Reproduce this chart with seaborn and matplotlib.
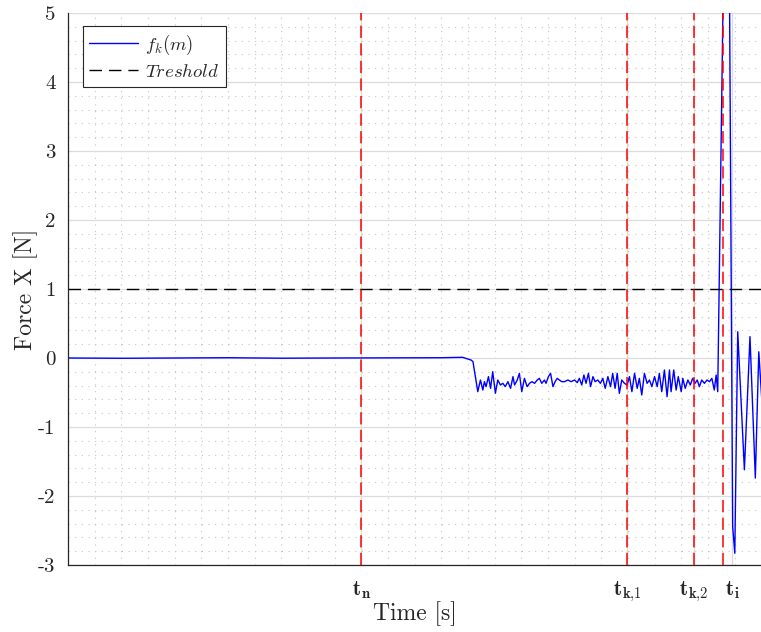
import numpy as np
import pandas as pd
import matplotlib
matplotlib.use("Agg")
import matplotlib.pyplot as plt
import seaborn as sns
from matplotlib.ticker import MultipleLocator, FixedLocator

# ---------------- data ----------------
time_flat = [0.0, 2.0, 4.0, 6.0, 8.0, 10.0, 12.0, 14.0, 14.8, 15.12, 15.19]
force_flat = [0.0, -0.004, 0.0, 0.004, -0.003, 0.0, 0.002, 0.004, 0.01, -0.03, -0.053]

time_osc = [15.37, 15.47, 15.56, 15.62, 15.68, 15.77, 15.85, 15.93, 16.03, 16.12,
            16.22, 16.31, 16.40, 16.50, 16.60, 16.69, 16.75, 16.85, 16.93, 17.02,
            17.12, 17.22, 17.31, 17.40, 17.50, 17.60, 17.68, 17.77, 17.87, 17.93,
            18.02, 18.10, 18.19, 18.27, 18.35, 18.43, 18.52, 18.62, 18.75, 18.87,
            19.00, 19.10, 19.18, 19.27, 19.35, 19.43, 19.52, 19.60, 19.69, 19.77,
            19.87, 19.97, 20.06, 20.15, 20.25, 20.35, 20.43, 20.52, 20.60, 20.68,
            20.77, 20.87, 20.97, 21.06, 21.15, 21.25, 21.35, 21.43, 21.52, 21.62,
            21.72, 21.81, 21.90, 22.00, 22.10, 22.18, 22.27, 22.37, 22.47, 22.56,
            22.62, 22.72, 22.81, 22.89, 23.00, 23.06, 23.15, 23.25, 23.34, 23.43,
            23.52, 23.60, 23.68, 23.77, 23.87, 23.97, 24.06, 24.15, 24.24, 24.31,
            24.37]
force_osc = [-0.488, -0.319, -0.464, -0.343, -0.415, -0.270, -0.440, -0.198, -0.512, -0.319,
             -0.391, -0.367, -0.415, -0.343, -0.440, -0.270, -0.391, -0.319, -0.222, -0.488,
             -0.295, -0.415, -0.367, -0.343, -0.367, -0.319, -0.295, -0.367, -0.319, -0.367,
             -0.270, -0.222, -0.415, -0.343, -0.295, -0.319, -0.343, -0.343, -0.319, -0.343,
             -0.319, -0.357, -0.295, -0.391, -0.246, -0.367, -0.222, -0.415, -0.270, -0.343,
             -0.319, -0.367, -0.295, -0.440, -0.270, -0.415, -0.222, -0.440, -0.222, -0.512,
             -0.319, -0.367, -0.391, -0.270, -0.488, -0.222, -0.440, -0.295, -0.536, -0.222,
             -0.367, -0.319, -0.415, -0.270, -0.415, -0.222, -0.488, -0.174, -0.560, -0.174,
             -0.488, -0.174, -0.464, -0.270, -0.488, -0.295, -0.440, -0.319, -0.391, -0.295,
             -0.367, -0.319, -0.415, -0.319, -0.367, -0.319, -0.343, -0.295, -0.464, -0.246,
             -0.488]

time_impact = [24.74, 24.93, 25.01, 25.12, 25.37, 25.58, 25.78, 25.91, 26.03, 26.10]
force_impact = [10.0, -2.44, -2.83, 0.38, -1.62, 0.31, -1.74, 0.09, -0.65, -0.90]

threshold = 1.0
event_times = [11.0, 20.97, 23.48, 24.57]          # red dashed markers
tick_times = [11.0, 20.97, 23.48, 24.91]
tick_labels = [r"$\mathbf{t_n}$", r"$\mathbf{t_{k{,}1}}$", r"$\mathbf{t_{k{,}2}}$", r"$\mathbf{t_i}$"]
y_ticks = [-3, -2, -1, 0, 1, 2, 3, 4, 5]
y_tick_labels = ["-3", "-2", "-1", "0", "1", "2", "3", "4", "5"]

df = pd.DataFrame({
    "time": time_flat + time_osc + time_impact,
    "force": force_flat + force_osc + force_impact,
})

# ---------------- style ----------------
sns.set_style("white")
plt.rcParams["font.family"] = ["cmr10", "DejaVu Serif"]
plt.rcParams["mathtext.fontset"] = "cm"
plt.rcParams["axes.unicode_minus"] = False

fig = plt.figure(figsize=(7.61, 6.32), dpi=100)
ax = fig.add_axes([68 / 761, 1 - 565 / 632, 1 - 68 / 761 + 0.002, (565 - 13) / 632])

# grids
ax.set_axisbelow(True)
ax.set_xlim(0, 26.05)
ax.set_ylim(-3, 5)
ax.xaxis.set_major_locator(FixedLocator(tick_times))
ax.xaxis.set_minor_locator(MultipleLocator(1.0))
ax.yaxis.set_major_locator(FixedLocator(y_ticks))
ax.yaxis.set_minor_locator(MultipleLocator(0.2))
ax.grid(which="major", color="#dcdcdc", linewidth=0.9, linestyle="-")
ax.grid(which="minor", color="#c4c4c4", linewidth=0.8, linestyle=(0, (1, 5)))

sns.lineplot(data=df, x="time", y="force", ax=ax, color="#0000ff", linewidth=1.0,
             label=r"$f_k(m)$", sort=False, estimator=None)
ax.axhline(threshold, color="black", linewidth=1.0, dashes=(9, 5), label=r"$Treshold$")
for t in event_times:
    ax.axvline(t, color="#ff0000", linewidth=1.1, dashes=(8, 3.5), zorder=3)

ax.set_xticklabels(tick_labels, fontsize=15)
ax.set_yticklabels(y_tick_labels, fontsize=15)
ax.tick_params(axis="both", which="major", direction="in", length=5, width=0.8,
               color="#262626", pad=9)
ax.tick_params(axis="both", which="minor", length=0)
ax.tick_params(axis="x", pad=10)

ax.set_xlabel("Time [s]", fontsize=17, labelpad=-2)
ax.set_ylabel("Force X [N]", fontsize=17, labelpad=0)

for side in ["top", "right"]:
    ax.spines[side].set_visible(False)
for side in ["left", "bottom"]:
    ax.spines[side].set_color("#262626")
    ax.spines[side].set_linewidth(0.9)

leg = ax.legend(loc="upper left", bbox_to_anchor=(0.021, 0.976), fontsize=13.5,
                frameon=True, fancybox=False, framealpha=1, edgecolor="#262626",
                borderpad=0.35, handlelength=2.6, handletextpad=0.4, labelspacing=0.3,
                borderaxespad=0)
leg.get_frame().set_linewidth(0.8)

fig.savefig("out.png", dpi=100)
